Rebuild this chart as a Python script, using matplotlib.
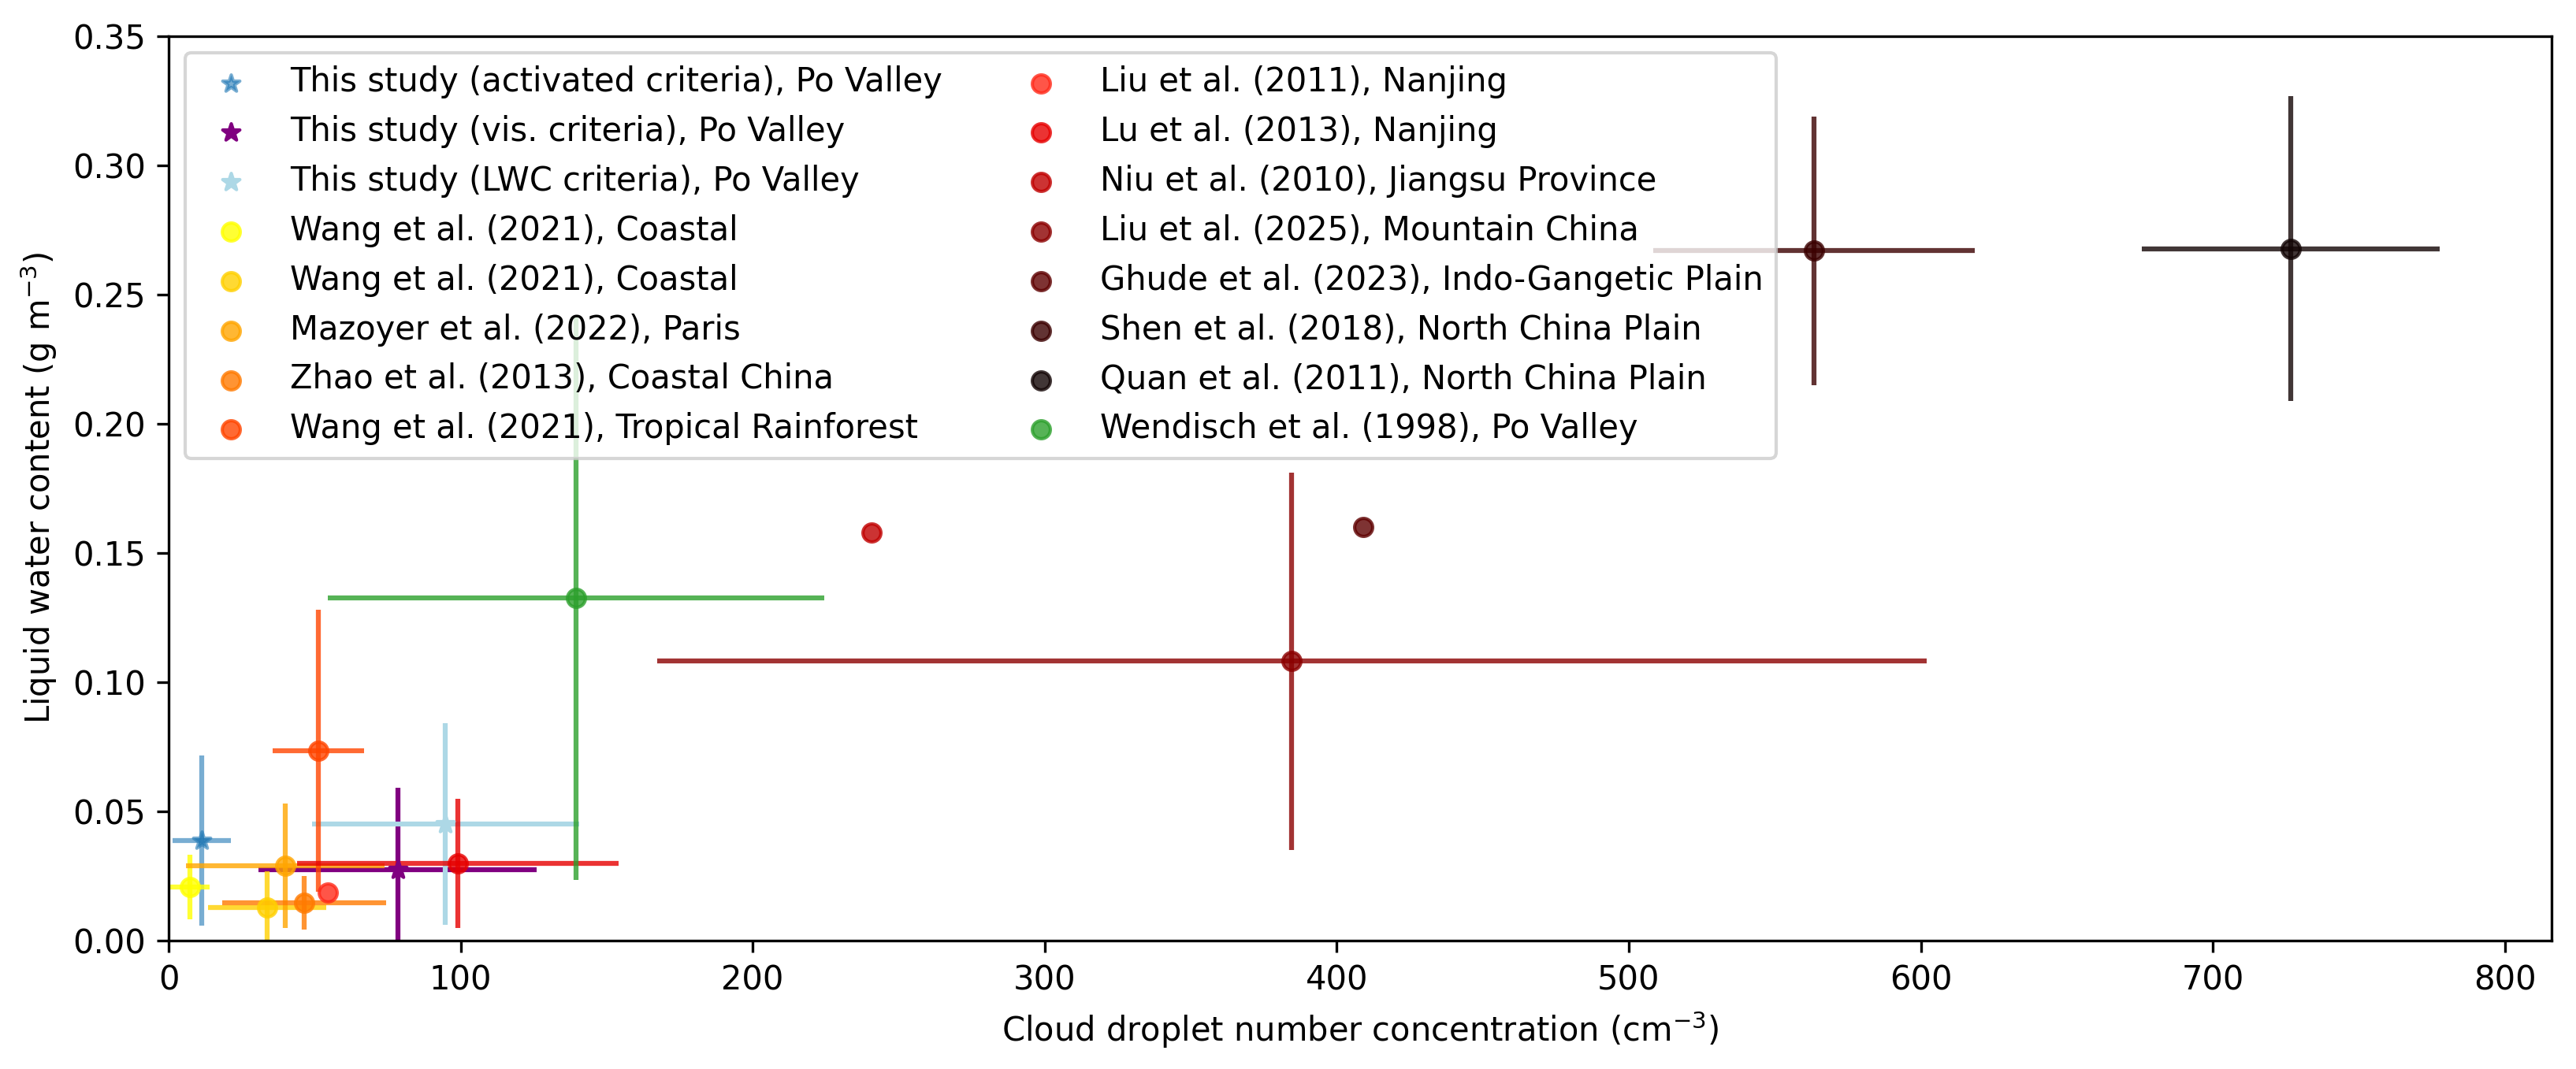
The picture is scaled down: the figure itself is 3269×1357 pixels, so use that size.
import matplotlib
matplotlib.use("Agg")
import matplotlib.pyplot as plt
import numpy as np

# Datos (CDNC en cm-3, LWC en g m-3)
labels = [
    "This study (activated criteria), Po Valley",
    "This study (vis. criteria), Po Valley",
    "This study (LWC criteria), Po Valley",
    "Wang et al. (2021), Coastal",
    "Wang et al. (2021), Coastal",
    "Mazoyer et al. (2022), Paris",
    "Zhao et al. (2013), Coastal China",
    "Wang et al. (2021), Tropical Rainforest",
    "Liu et al. (2011), Nanjing",
    "Lu et al. (2013), Nanjing",
    "Niu et al. (2010), Jiangsu Province",
    "Liu et al. (2025), Mountain China",
    "Ghude et al. (2023), Indo-Gangetic Plain",
    "Shen et al. (2018), North China Plain",
    "Quan et al. (2011), North China Plain",
    "Wendisch et al. (1998), Po Valley",
]
cdnc = [11.3, 78.4, 94.8, 7.3, 33.7, 40.0, 46.4, 51.3, 54.5, 99.0, 240.6, 384.6, 409.1, 563.4, 726.8, 139.4]
cdnc_err = [9.9, 47.6, 45.8, 6.8, 20.3, 34.0, 28.0, 15.6, None, 55.0, None, 217.3, None, 55.0, 51.0, 85.0]
lwc = [0.0387, 0.0275, 0.045, 0.0207, 0.0128, 0.029, 0.0146, 0.0735, 0.0187, 0.030, 0.158, 0.1082, 0.160, 0.267, 0.2677, 0.1325]
lwc_err = [0.033, 0.0315, 0.039, 0.0125, 0.014, 0.024, 0.0103, 0.0545, None, 0.025, None, 0.073, None, 0.052, 0.059, 0.109]
colors = ["#1f77b4", "purple", "lightblue", "#FFFF00", "#FFD000", "#FFA500", "#FF7A00",
          "#FF4500", "#FF2A1A", "#E60000", "#C00000", "#8B0000", "#5E0000", "#3B0000",
          "#120404", "#2ca02c"]
markers = ["*", "*", "*"] + ["o"] * 13
alphas = [0.6, 1.0, 1.0] + [0.8] * 13

W, H, DPI = 3269, 1357, 300
fig = plt.figure(figsize=(W / DPI, H / DPI), dpi=DPI)
ax = fig.add_axes([214 / W, (H - 1194) / H, (3238 - 214) / W, (1194 - 46) / H])

for i in range(len(labels)):
    # barras de error sin tapas
    if cdnc_err[i] is not None:
        ax.errorbar(cdnc[i], lwc[i], xerr=cdnc_err[i], yerr=lwc_err[i], fmt="none",
                    ecolor=colors[i], elinewidth=1.5, capsize=0, alpha=alphas[i], zorder=2)
    ax.scatter(cdnc[i], lwc[i], s=30, marker=markers[i], color=colors[i],
               alpha=alphas[i], label=labels[i], zorder=3)

ax.set_xlim(left=0, right=816)
ax.set_ylim(0, 0.35)
ax.set_xlabel("Cloud droplet number concentration (cm$^{-3}$)")
ax.set_ylabel("Liquid water content (g m$^{-3}$)")
ax.legend(loc="upper left", ncol=2)

fig.savefig("out.png", dpi=DPI)
